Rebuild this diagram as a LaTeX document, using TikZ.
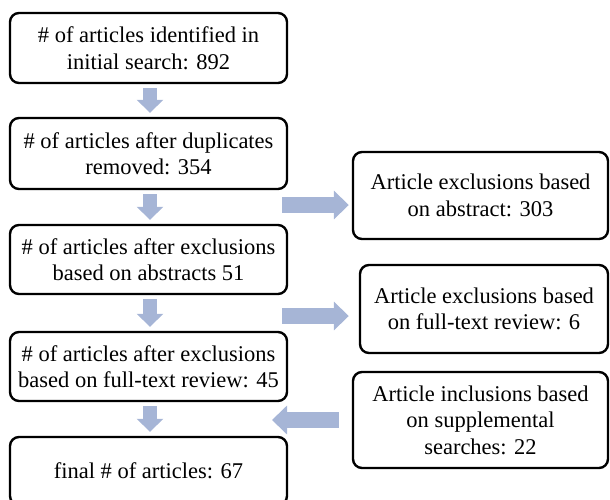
\documentclass[tikz,border=0pt]{standalone}
\usepackage{fontspec}
\setmainfont{Liberation Serif}
\usetikzlibrary{arrows.meta,calc}
\definecolor{arrowblue}{RGB}{166,181,214}
\begin{document}
\begin{tikzpicture}[x=1pt,y=-1pt,
  box/.style={draw=black,line width=2.4pt,rounded corners=9pt,align=center,
    font=\fontsize{22.5}{26.5}\selectfont,inner sep=0pt},
  leftbox/.style={box,minimum width=277pt},
  downarrow/.style={arrowblue,line width=14pt,-{Triangle[width=26pt,length=13pt]}},
  sidearrow/.style={arrowblue,line width=16pt,-{Triangle[width=28pt,length=15pt]}}]
\useasboundingbox (0,0) rectangle (610,499);
\node[leftbox,minimum height=70pt] (b1) at (148.5,48) {\# of articles identified in\\initial search: 892};
\node[leftbox,minimum height=71pt] (b2) at (148.5,153.5) {\# of articles after duplicates\\removed: 354};
\node[leftbox,minimum height=69pt] (b3) at (148.5,259.5) {\# of articles after exclusions\\based on abstracts 51};
\node[leftbox,minimum height=69pt] (b4) at (148.5,366.5) {\# of articles after exclusions\\based on full-text review: 45};
\node[leftbox,minimum height=68pt] (b5) at (148.5,471) {final \# of articles: 67};
\node[box,minimum width=255pt,minimum height=87pt] (r1) at (480.5,195.5) {Article exclusions based\\on abstract: 303};
\node[box,minimum width=248pt,minimum height=88pt] (r2) at (484,309) {Article exclusions based\\on full-text review: 6};
\node[box,minimum width=255pt,minimum height=96pt] (r3) at (480.5,420) {Article inclusions based\\on supplemental\\searches: 22};
\coordinate (s1) at (282,205);
\coordinate (s2) at (282,316);
\coordinate (e3) at (272,420);
\foreach \a/\b in {b1/b2,b2/b3,b3/b4,b4/b5}
  \draw[downarrow] ($(\a.south)+(1.5,4)$) -- ($(\b.north)+(1.5,-4)$);
\draw[sidearrow] (s1) -- ($(s1-|r1.west)+(-3,0)$);
\draw[sidearrow] (s2) -- ($(s2-|r2.west)+(-10,0)$);
\draw[sidearrow] ($(r3.west)+(-13,0)$) -- (e3);
\end{tikzpicture}
\end{document}
